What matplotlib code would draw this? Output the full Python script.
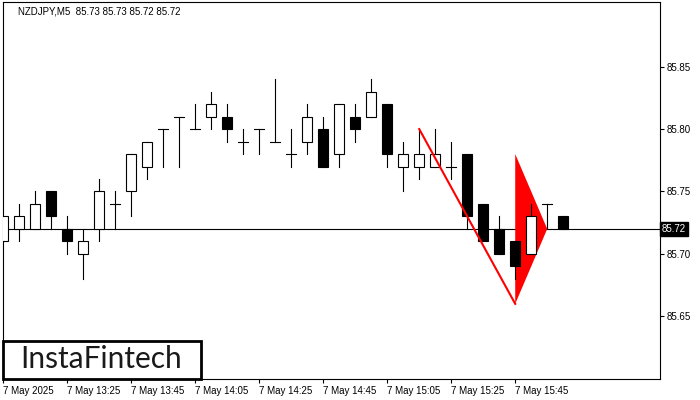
import matplotlib.pyplot as plt
from matplotlib.patches import Rectangle

opens = [85.71, 85.72, 85.72, 85.75, 85.72, 85.70, 85.72, 85.74, 85.75, 85.77,
         85.80, 85.81, 85.80, 85.81, 85.81, 85.79, 85.80, 85.79, 85.78, 85.79,
         85.80, 85.78, 85.81, 85.81, 85.82, 85.77, 85.77, 85.77, 85.77, 85.78,
         85.74, 85.72, 85.71, 85.70, 85.74, 85.73]
highs = [85.73, 85.74, 85.75, 85.75, 85.73, 85.72, 85.76, 85.75, 85.78, 85.79,
         85.80, 85.81, 85.82, 85.83, 85.82, 85.80, 85.80, 85.84, 85.80, 85.82,
         85.81, 85.82, 85.82, 85.84, 85.82, 85.79, 85.80, 85.80, 85.79, 85.78,
         85.74, 85.73, 85.71, 85.74, 85.74, 85.73]
lows = [85.71, 85.71, 85.72, 85.72, 85.70, 85.68, 85.71, 85.72, 85.73, 85.76,
        85.77, 85.77, 85.80, 85.80, 85.79, 85.78, 85.78, 85.79, 85.77, 85.78,
        85.77, 85.77, 85.79, 85.81, 85.77, 85.75, 85.76, 85.77, 85.76, 85.72,
        85.71, 85.70, 85.68, 85.70, 85.72, 85.72]
closes = [85.73, 85.73, 85.74, 85.73, 85.71, 85.71, 85.75, 85.74, 85.78, 85.79,
          85.80, 85.81, 85.80, 85.82, 85.80, 85.79, 85.80, 85.79, 85.78, 85.81,
          85.77, 85.82, 85.80, 85.83, 85.78, 85.78, 85.78, 85.78, 85.77, 85.73,
          85.71, 85.70, 85.69, 85.73, 85.74, 85.72]

time_ticks = [0, 4, 8, 12, 16, 20, 24, 28, 32]
time_labels = ["7 May 2025", "7 May 13:25", "7 May 13:45", "7 May 14:05",
               "7 May 14:25", "7 May 14:45", "7 May 15:05", "7 May 15:25",
               "7 May 15:45"]
price_ticks = [85.65, 85.70, 85.75, 85.80, 85.85]
last_price = 85.72

# pennant: pole line and flag triangle
pole_x = [26, 32]
pole_y = [85.80, 85.66]
flag_x = [32, 32, 34]
flag_y = [85.78, 85.66, 85.72]

plt.rcParams["font.family"] = ["Liberation Sans", "DejaVu Sans"]

fig = plt.figure(figsize=(7, 4), dpi=100)
ax = fig.add_axes([2.5 / 700, 1 - 379 / 400, 657.5 / 700, 377 / 400])

body_w = 0.62
for i, (o, h, l, c) in enumerate(zip(opens, highs, lows, closes)):
    ax.plot([i, i], [l, h], color="black", lw=0.8, zorder=3)
    lo, hi = min(o, c), max(o, c)
    if hi - lo < 1e-9:
        ax.plot([i - body_w / 2, i + body_w / 2], [o, o], color="black", lw=0.8, zorder=3)
    else:
        face = "white" if c > o else "black"
        ax.add_patch(Rectangle((i - body_w / 2, lo), body_w, hi - lo,
                               facecolor=face, edgecolor="black", lw=0.8, zorder=4))

ax.axhline(last_price, color="black", lw=0.8, zorder=1)
ax.fill(flag_x, flag_y, color="red", lw=0, zorder=2)
ax.plot(pole_x, pole_y, color="red", lw=1.5, zorder=5)

ax.set_xlim(-0.05, 41.05)
ax.set_ylim(85.5998, 85.9018)

ax.yaxis.tick_right()
ax.set_yticks(price_ticks)
ax.set_yticklabels([f"{p:.2f}" for p in price_ticks])
ax.set_xticks(time_ticks)
ax.set_xticklabels(time_labels, ha="left")
ax.tick_params(axis="both", labelsize=7, length=3, width=0.8, color="black", pad=2)
for s in ax.spines.values():
    s.set_linewidth(0.8)

ax.text(1.003, (last_price - 85.5998) / (85.9018 - 85.5998), f"{last_price:.2f}",
        transform=ax.transAxes, fontsize=7, color="white", va="center", ha="left",
        bbox=dict(facecolor="black", edgecolor="black", pad=1.2))

fig.text(18 / 700, 1 - 12 / 400, "NZDJPY,M5  85.73 85.73 85.72 85.72",
         fontsize=7, color="black", va="center", ha="left")

fig.patches.append(Rectangle((3 / 700, 1 - 378.5 / 400), 198 / 700, 37.5 / 400,
                             transform=fig.transFigure, fill=False,
                             edgecolor="black", lw=2, zorder=10))
fig.text(101.5 / 700, 1 - 359 / 400, "InstaFintech", fontsize=21.5, color="#1a1a1a",
         family=["Lato", "DejaVu Sans"], va="center", ha="center", zorder=11)

fig.savefig("out.png", dpi=100)
